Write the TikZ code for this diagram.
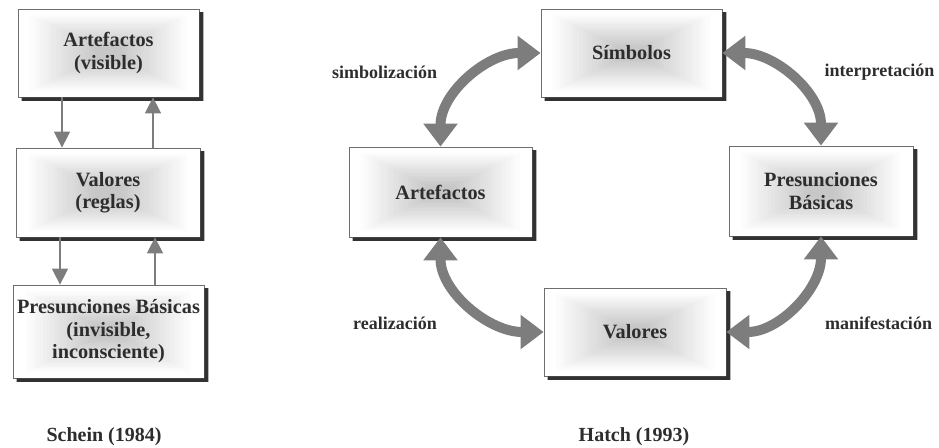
\documentclass[tikz,border=0pt]{standalone}
\usepackage{fontspec}
\setmainfont{Liberation Serif}
\usetikzlibrary{arrows.meta,calc}
\definecolor{arrowgray}{RGB}{125,125,125}
\definecolor{txtgray}{RGB}{45,45,45}
\definecolor{bordergray}{RGB}{110,110,110}
\definecolor{shadowgray}{RGB}{50,50,50}
\newcommand{\boxshadow}[1]{%
  \fill[shadowgray] ([xshift=4pt]#1.south west) -- ([shift={(4pt,-3.5pt)}]#1.south west)
    -- ([shift={(4pt,-3.5pt)}]#1.south east) -- ([shift={(4pt,-3.5pt)}]#1.north east)
    -- ([yshift=-3.5pt]#1.north east) -- (#1.south east) -- cycle;}
\begin{document}
\begin{tikzpicture}[x=1pt,y=1pt,
  box/.style={draw=bordergray, line width=0.8pt, fill=white,
    path picture={
      \foreach \k in {0,...,22}{
        \pgfmathsetmacro\f{0.05+0.018*\k}
        \pgfmathsetmacro\c{min(22,1.05*\k)}
        \fill[black!\c] ($(path picture bounding box.south west)!\f!(path picture bounding box.north east)$)
          rectangle ($(path picture bounding box.north east)!\f!(path picture bounding box.south west)$);
      }},
    align=center, inner sep=0pt, text=txtgray,
    font=\bfseries\fontsize{20.3}{22.5}\selectfont},
  lbl/.style={text=txtgray, font=\bfseries\fontsize{18}{20}\selectfont, inner sep=0pt},
  captionlbl/.style={text=txtgray, font=\bfseries\fontsize{20}{22}\selectfont, inner sep=0pt},
  thinarrow/.style={draw=arrowgray, line width=1.6pt, -{Triangle[length=16pt,width=16pt]}},
  bigarrow/.style={draw=arrowgray, line width=10pt,
    {Triangle[length=23pt,width=33pt]}-{Triangle[length=23pt,width=33pt]}}
]
\useasboundingbox (0,0) rectangle (939,447);

% Schein (1984)
\node[box, minimum width=181pt, minimum height=88pt] (A1) at (108.5,394) {Artefactos\\(visible)};
\node[box, minimum width=184pt, minimum height=89pt] (V1) at (108,254.5) {Valores\\(reglas)};
\node[box, minimum width=191pt, minimum height=93pt] (P1) at (108.5,115.5) {Presunciones Básicas\\(invisible,\\inconsciente)};
\node[captionlbl] (schein) at (104,10) {Schein (1984)};

% Hatch (1993)
\node[box, minimum width=181pt, minimum height=88pt] (S) at (631.5,394) {Símbolos};
\node[box, minimum width=183pt, minimum height=90pt] (A2) at (440.5,255) {Artefactos};
\node[box, minimum width=184pt, minimum height=90pt] (P2) at (821,256) {Presunciones\\Básicas};
\node[box, minimum width=182pt, minimum height=88pt] (V2) at (635,115) {Valores};
\node[captionlbl] (hatch) at (634,10) {Hatch (1993)};

\boxshadow{A1}\boxshadow{V1}\boxshadow{P1}
\boxshadow{S}\boxshadow{A2}\boxshadow{P2}\boxshadow{V2}

\draw[thinarrow] ([xshift=-46.5pt]A1.south) -- ([xshift=-46.5pt]A1.south |- V1.north);
\draw[thinarrow] ([xshift=44.5pt]A1.south |- V1.north) -- ([xshift=44.5pt]A1.south);
\draw[thinarrow] ([xshift=-48pt]V1.south) -- ([xshift=-48pt]V1.south |- P1.north);
\draw[thinarrow] ([xshift=47pt]V1.south |- P1.north) -- ([xshift=47pt]V1.south);

\draw[bigarrow] (A2.north) to[out=90,in=180] (S.west);
\draw[bigarrow] (S.east) to[out=0,in=90] (P2.north);
\draw[bigarrow] (P2.south) to[out=-90,in=0] (V2.east);
\draw[bigarrow] (A2.south) to[out=-90,in=180] (V2.west);

\node[lbl] (l1) at (384.5,375) {simbolización};
\node[lbl] (l2) at (879.5,375) {interpretación};
\node[lbl] (l3) at (395,124) {realización};
\node[lbl] (l4) at (878.5,124) {manifestación};
\end{tikzpicture}
\end{document}
